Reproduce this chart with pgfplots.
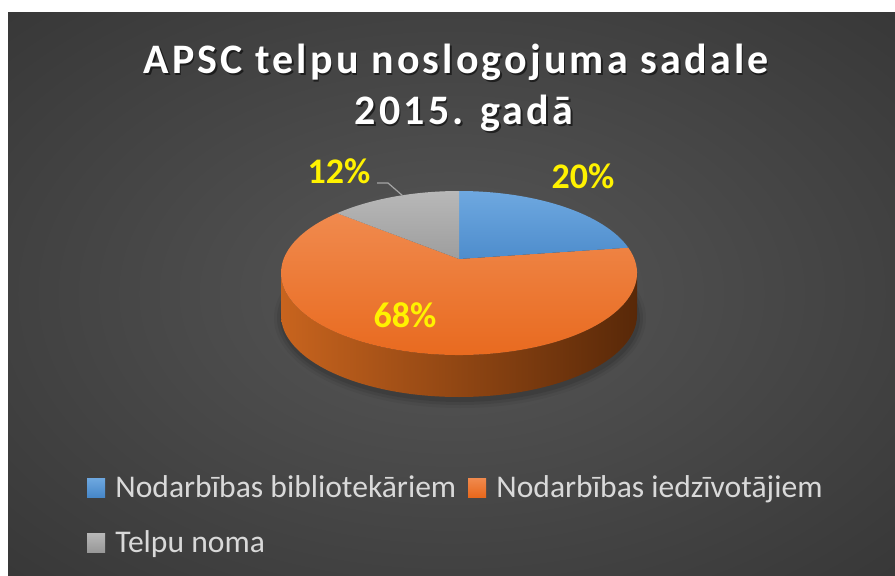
\documentclass[border=0pt]{standalone}
\usepackage{pgfplots}
\pgfplotsset{compat=1.18}
\usepackage{pgfplotstable}
\usepackage{fontspec}
\setmainfont{Carlito}
\newfontfamily\titlefont[LetterSpace=7.5]{Carlito}
\definecolor{bgin}{HTML}{575757}
\definecolor{bgout}{HTML}{2B2B2B}
\definecolor{pblue}{HTML}{5B9BD5}
\definecolor{pblueT}{HTML}{6EA8E0}
\definecolor{pblueB}{HTML}{4787C8}
\definecolor{porT}{HTML}{F08A4E}
\definecolor{porB}{HTML}{E8681C}
\definecolor{porange}{HTML}{ED7D31}
\definecolor{psideL}{HTML}{C8641E}
\definecolor{psideR}{HTML}{582808}
\definecolor{pgrayT}{HTML}{B8B8B8}
\definecolor{pgrayB}{HTML}{989898}
\definecolor{pgray}{HTML}{A5A5A5}
\definecolor{legtext}{HTML}{D9D9D9}
\pgfdeclareradialshading{bgshade}{\pgfpoint{0bp}{0bp}}{color(0bp)=(bgin); color(50bp)=(bgout)}

\pgfplotstableread{
label value
bibliotekariem 20
iedzivotajiem 68
noma 12
}\piedata
\pgfplotstablegetelem{0}{value}\of\piedata \let\va\pgfplotsretval
\pgfplotstablegetelem{1}{value}\of\piedata \let\vb\pgfplotsretval
\pgfplotstablegetelem{2}{value}\of\piedata \let\vc\pgfplotsretval
\pgfmathsetmacro\aA{90}
\pgfmathsetmacro\aB{90-3.6*\va}
\pgfmathsetmacro\aC{\aB-3.6*\vb}
\pgfmathsetmacro\aD{\aC-3.6*\vc}

\begin{document}
\begin{tikzpicture}
\begin{axis}[
  width=447.5pt, height=287.5pt, scale only axis,
  xmin=0, xmax=895, ymin=0, ymax=575,
  hide axis, clip=true,
]
% white margin and background
\fill[white] (axis cs:0,0) rectangle (axis cs:895,575);
\fill[shading=bgshade] (axis cs:8,0) rectangle (axis cs:895,563);

% title
\node[anchor=base, text=black, opacity=0.55, font=\titlefont\bfseries\fontsize{21}{25}\selectfont] at (axis cs:457.5,500) {APSC telpu noslogojuma sadale};
\node[anchor=base, text=white, font=\titlefont\bfseries\fontsize{21}{25}\selectfont] at (axis cs:456,502) {APSC telpu noslogojuma sadale};
\node[anchor=base, text=black, opacity=0.55, font=\titlefont\bfseries\fontsize{21}{25}\selectfont] at (axis cs:465.5,449) {2015. gadā};
\node[anchor=base, text=white, font=\titlefont\bfseries\fontsize{21}{25}\selectfont] at (axis cs:464,451) {2015. gadā};

% soft shadow under the pie
\fill[black, opacity=0.05] (axis cs:460,257) ellipse[x radius=93pt, y radius=45pt];
\fill[black, opacity=0.07] (axis cs:460,257) ellipse[x radius=91.5pt, y radius=43.5pt];
\fill[black, opacity=0.09] (axis cs:460,257) ellipse[x radius=90pt, y radius=42pt];

% side of pie (front half, orange)
\shade[left color=psideL, right color=psideR]
  (axis cs:459,260) ++(0:89pt and 41pt) -- ++(0,21pt)
  arc[start angle=0, end angle=-180, x radius=89pt, y radius=41pt]
  -- ++(0,-21pt)
  arc[start angle=-180, end angle=0, x radius=89pt, y radius=41pt] -- cycle;

% top faces
\shade[top color=porT, bottom color=porB]
  (axis cs:459,302) ++(\aB:89pt and 41pt)
  arc[start angle=\aB, end angle=\aC, x radius=89pt, y radius=41pt]
  -- (axis cs:459,316) -- cycle;
\shade[top color=pblueT, bottom color=pblueB]
  (axis cs:459,302) ++(\aA:89pt and 41pt)
  arc[start angle=\aA, end angle=\aB, x radius=89pt, y radius=41pt]
  -- (axis cs:459,316) -- cycle;
\shade[top color=pgrayT, bottom color=pgrayB]
  (axis cs:459,302) ++(\aC:89pt and 41pt)
  arc[start angle=\aC, end angle=\aD, x radius=89pt, y radius=41pt]
  -- (axis cs:459,316) -- cycle;

% data labels
\draw[pgray, line width=0.6pt] (axis cs:377,392) -- (axis cs:388,392) -- (axis cs:403,379);
\node[anchor=base, text=yellow, font=\bfseries\fontsize{18}{22}\selectfont] at (axis cs:583,387) {\va\%};
\node[anchor=base, text=yellow, font=\bfseries\fontsize{18}{22}\selectfont] at (axis cs:339,392) {\vc\%};
\node[anchor=base, text=yellow, font=\bfseries\fontsize{18}{22}\selectfont] at (axis cs:405,248) {\vb\%};

% legend
\shade[top color=pblueT, bottom color=pblueB] (axis cs:87,78) rectangle (axis cs:105,97);
\node[anchor=base west, inner sep=0pt, text=legtext, font=\fontsize{15.8}{19}\selectfont] at (axis cs:115,78) {Nodarbības bibliotekāriem};
\shade[top color=porT, bottom color=porB] (axis cs:468,78) rectangle (axis cs:486,97);
\node[anchor=base west, inner sep=0pt, text=legtext, font=\fontsize{15.8}{19}\selectfont] at (axis cs:496,78) {Nodarbības iedzīvotājiem};
\shade[top color=pgrayT, bottom color=pgrayB] (axis cs:87,23) rectangle (axis cs:105,42);
\node[anchor=base west, inner sep=0pt, text=legtext, font=\fontsize{15.8}{19}\selectfont] at (axis cs:115,23) {Telpu noma};
\end{axis}
\end{tikzpicture}
\end{document}
